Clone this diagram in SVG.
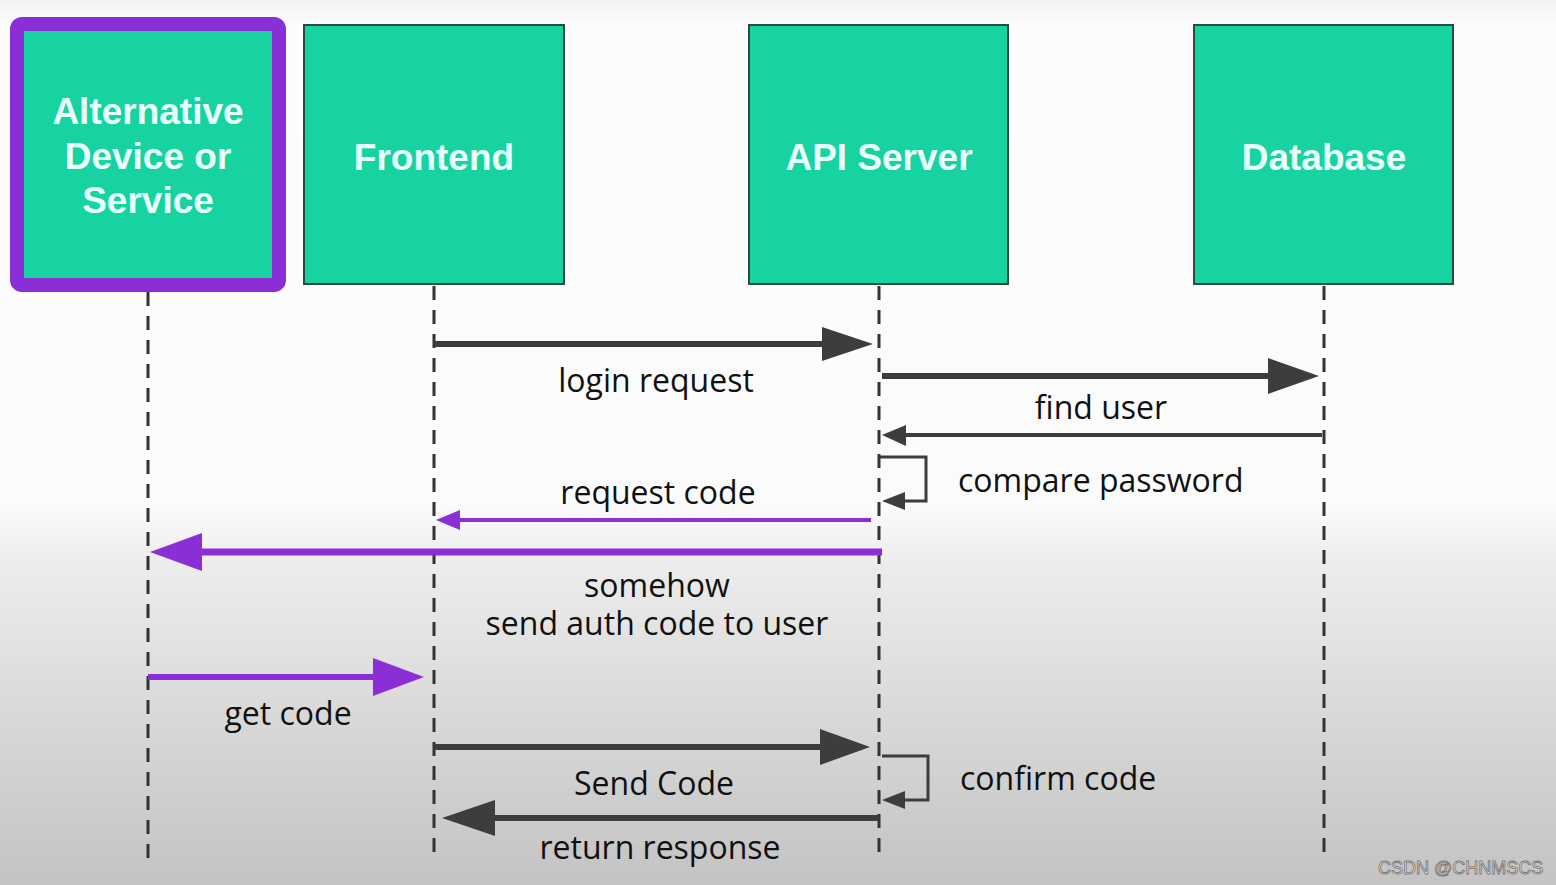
<svg xmlns="http://www.w3.org/2000/svg" width="1556" height="885" viewBox="0 0 1556 885">
<style>
.box{fill:#17d3a2;stroke:#2e4a40;stroke-width:2}
.ntxt{font-family:"Liberation Sans",Arial,sans-serif;font-weight:bold;font-size:37px;fill:#eafff9;text-anchor:middle}
.life{stroke:#333;stroke-width:3;stroke-dasharray:14 10;fill:none}
.lbl{font-family:"Open Sans",sans-serif;font-size:32px;fill:#111}
.mid{text-anchor:middle}
.dk{stroke:#3d3d3d;fill:none}
.pu{stroke:#8a2fd6;fill:none}
.hdk{fill:#3d3d3d}
.hpu{fill:#8a2fd6}
.wm{font-family:"Liberation Sans",Arial,sans-serif;font-size:18px;fill:#f6f6f6;stroke:#777;stroke-width:0.9}
</style>
<defs>
<linearGradient id="bg" x1="0" y1="0" x2="0" y2="1">
<stop offset="0" stop-color="#f2f2f2"/>
<stop offset="0.03" stop-color="#fdfdfd"/>
<stop offset="0.57" stop-color="#fbfbfb"/>
<stop offset="0.64" stop-color="#ececec"/>
<stop offset="1" stop-color="#c3c3c3"/>
</linearGradient>
</defs>
<rect x="0" y="0" width="1556" height="885" fill="url(#bg)"/>

<g id="lifelines">
<line class="life" x1="148" y1="292" x2="148" y2="862"/>
<line class="life" x1="434" y1="286" x2="434" y2="862"/>
<line class="life" x1="879" y1="286" x2="879" y2="862"/>
<line class="life" x1="1324" y1="286" x2="1324" y2="862"/>
</g>

<g id="node-alt">
<rect x="17" y="24" width="262" height="261" rx="5" fill="#17d3a2" stroke="#8a2fd6" stroke-width="14"/>
<text class="ntxt" x="148" y="124">Alternative</text>
<text class="ntxt" x="148" y="169">Device or</text>
<text class="ntxt" x="148" y="213">Service</text>
</g>
<g id="node-frontend">
<rect class="box" x="304" y="25" width="260" height="259"/>
<text class="ntxt" x="434" y="170">Frontend</text>
</g>
<g id="node-api">
<rect class="box" x="749" y="25" width="259" height="259"/>
<text class="ntxt" x="879" y="170">API Server</text>
</g>
<g id="node-db">
<rect class="box" x="1194" y="25" width="259" height="259"/>
<text class="ntxt" x="1324" y="170">Database</text>
</g>

<g id="connectors">
<!-- login request -->
<line class="dk" x1="434" y1="344" x2="826" y2="344" stroke-width="6"/>
<polygon class="hdk" points="822,327 873,344 822,361"/>
<!-- find user -->
<line class="dk" x1="882" y1="376" x2="1272" y2="376" stroke-width="6"/>
<polygon class="hdk" points="1268,358 1319,376 1268,394"/>
<!-- db return -->
<line class="dk" x1="1322" y1="435" x2="900" y2="435" stroke-width="4"/>
<polygon class="hdk" points="882,435 906,425 906,446"/>
<!-- compare password loop -->
<polyline class="dk" points="879,457 926,457 926,501 898,501" stroke-width="3"/>
<polygon class="hdk" points="882,501 905,492 905,510"/>
<!-- request code -->
<line class="pu" x1="871" y1="520" x2="455" y2="520" stroke-width="4"/>
<polygon class="hpu" points="436,520 460,510 460,530"/>
<!-- somehow send -->
<line class="pu" x1="882" y1="552" x2="196" y2="552" stroke-width="7"/>
<polygon class="hpu" points="150,552 202,533 202,571"/>
<!-- get code -->
<line class="pu" x1="148" y1="677" x2="378" y2="677" stroke-width="6"/>
<polygon class="hpu" points="373,658 424,677 373,696"/>
<!-- Send Code -->
<line class="dk" x1="434" y1="747" x2="824" y2="747" stroke-width="6"/>
<polygon class="hdk" points="820,729 870,747 820,765"/>
<!-- confirm code loop -->
<polyline class="dk" points="882,756 928,756 928,800 898,800" stroke-width="3"/>
<polygon class="hdk" points="882,800 905,791 905,809"/>
<!-- return response -->
<line class="dk" x1="879" y1="818" x2="488" y2="818" stroke-width="6"/>
<polygon class="hdk" points="442,818 495,800 495,836"/>
</g>

<g id="labels">
<text class="lbl mid" x="656" y="392">login request</text>
<text class="lbl mid" x="1101" y="419">find user</text>
<text class="lbl" x="958" y="492">compare password</text>
<text class="lbl mid" x="658" y="504">request code</text>
<text class="lbl mid"><tspan x="657" y="597">somehow</tspan><tspan x="657" y="635">send auth code to user</tspan></text>
<text class="lbl mid" x="288" y="725">get code</text>
<text class="lbl mid" x="654" y="795">Send Code</text>
<text class="lbl" x="960" y="790">confirm code</text>
<text class="lbl mid" x="660" y="859">return response</text>
<text class="wm" x="1378" y="874">CSDN @CHNMSCS</text>
</g>
</svg>
